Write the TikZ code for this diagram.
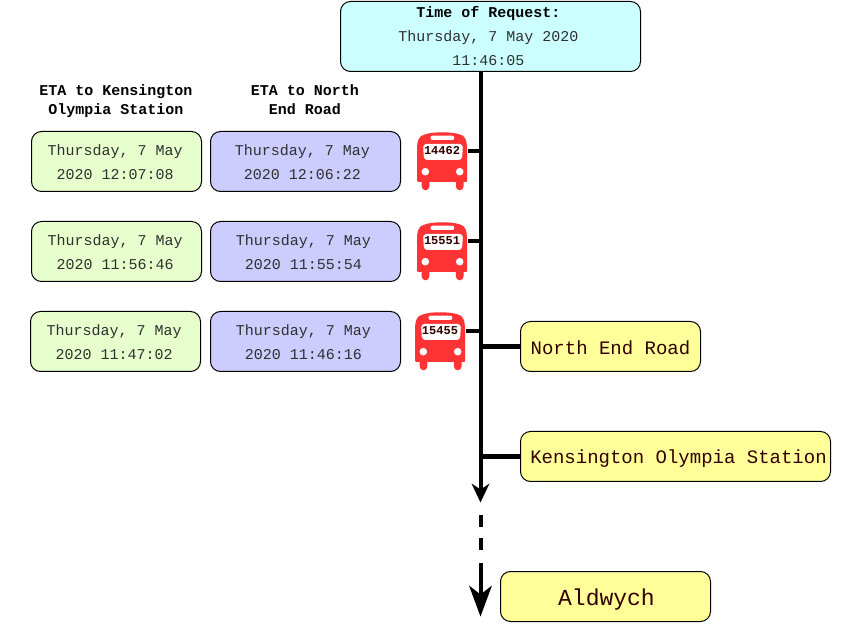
\documentclass[tikz,border=0pt]{standalone}
\usepackage{fontspec}
\setmonofont{Liberation Mono}
\definecolor{cyanbox}{HTML}{CCFFFF}
\definecolor{greenbox}{HTML}{E6FFCC}
\definecolor{bluebox}{HTML}{CCCCFF}
\definecolor{yellowbox}{HTML}{FFFF99}
\definecolor{busred}{HTML}{FF3333}
\definecolor{inkdark}{HTML}{303030}
\definecolor{inkstop}{HTML}{330000}
\tikzset{
  x=0.75pt,y=-0.75pt,
  boxbase/.style={draw=black,line width=0.75pt,rounded corners=7.5pt,inner sep=0pt,outer sep=0pt,anchor=north west},
  greennode/.style={boxbase,fill=greenbox,minimum width=127.5pt,minimum height=45pt},
  bluenode/.style={boxbase,fill=bluebox,minimum width=142.5pt,minimum height=45pt},
  stopnode/.style={boxbase,fill=yellowbox,minimum height=37.5pt},
  etatext/.style={inner sep=0pt,align=center,text=inkdark,font=\ttfamily\fontsize{11.25}{18}\selectfont},
  stoptext/.style={inner sep=0pt,text=inkstop,font=\ttfamily\fontsize{14.25}{16}\selectfont},
  headtext/.style={align=center,inner sep=0pt,font=\ttfamily\bfseries\fontsize{11.25}{14}\selectfont},
  busplate/.style={inner sep=0pt,font=\ttfamily\bfseries\fontsize{9}{9}\selectfont,text=inkstop},
  spine/.style={line width=3pt,draw=black},
  stub/.style={line width=3pt,draw=black},
  stopstub/.style={line width=3.75pt,draw=black},
}
\newcommand{\busicon}[1]{%
  \begin{scope}[shift={(#1)}]
    \fill[busred] (-25,-10) .. controls (-25,-20) and (-23,-24.5) .. (-17,-25.5) .. controls (-10,-28.5) and (10,-28.5) .. (18,-25.5) .. controls (23,-24.5) and (25,-20) .. (25,-10) -- (25,21) -- (24,22) -- (21.5,22) -- (21.5,26.5) arc[start angle=0,end angle=180,radius=3.8] -- (13.9,22) -- (-12.7,22) -- (-12.7,26.5) arc[start angle=0,end angle=180,radius=3.8] -- (-20.3,22) -- (-24,22) -- (-25,21) -- cycle;
    \fill[white,rounded corners=1.5pt] (-11.5,-24.3) rectangle (12.3,-20);
    \fill[white,rounded corners=2.5pt] (-19,-16) -- (21,-16) -- (20,0) -- (-18,0) -- cycle;
    \fill[white] (-16.7,11.7) circle[radius=3.8];
    \fill[white] (17.7,11.7) circle[radius=3.8];
  \end{scope}}
\begin{document}
\begin{tikzpicture}
\useasboundingbox (0,0) rectangle (847,627);
% boxes
\node[boxbase,fill=cyanbox,minimum width=225pt,minimum height=52.5pt,
  label={[etatext,xshift=-1.5pt]center:{{\bfseries\color{black}Time of Request:}\\Thursday, 7 May 2020\\11:46:05}}] (req) at (340.5,1.5) {};
\node[headtext] (hg) at (116,101) {ETA to Kensington\\Olympia Station};
\node[headtext] (hb) at (305,99.5) {ETA to North\\End Road};
\node[greennode,label={[etatext,xshift=-1.1pt,yshift=-0.75pt]center:{Thursday, 7 May\\2020 12:07:08}}] (g1) at (31.5,131.5) {};
\node[bluenode,label={[etatext,xshift=-2.25pt,yshift=-0.75pt]center:{Thursday, 7 May\\2020 12:06:22}}] (b1) at (210.5,131.5) {};
\node[greennode,label={[etatext,xshift=-1.1pt,yshift=-0.75pt]center:{Thursday, 7 May\\2020 11:56:46}}] (g2) at (31.5,221.5) {};
\node[bluenode,label={[etatext,xshift=-1.5pt,yshift=-0.75pt]center:{Thursday, 7 May\\2020 11:55:54}}] (b2) at (210.5,221.5) {};
\node[greennode,label={[etatext,xshift=-1.1pt,yshift=-0.75pt]center:{Thursday, 7 May\\2020 11:47:02}}] (g3) at (30.5,311.5) {};
\node[bluenode,label={[etatext,xshift=-1.5pt,yshift=-0.75pt]center:{Thursday, 7 May\\2020 11:46:16}}] (b3) at (210.5,311.5) {};
\node[stopnode,minimum width=135pt,label={[stoptext,yshift=-0.75pt]center:North End Road}] (ner) at (520.5,321.5) {};
\node[stopnode,minimum width=232.5pt,label={[stoptext,xshift=2.25pt,yshift=-1.5pt]center:Kensington Olympia Station}] (kos) at (520.5,431.5) {};
\node[stopnode,minimum width=157.5pt,label={[stoptext,font=\ttfamily\fontsize{17.25}{18}\selectfont,xshift=0.75pt,yshift=-2.25pt]center:Aldwych}] (ald) at (500.5,571.5) {};
% buses
\busicon{442,160}
\busicon{442,250}
\busicon{440,340}
\node[busplate] (p1) at (442,151) {14462};
\node[busplate] (p2) at (442,241) {15551};
\node[busplate] (p3) at (440,331) {15455};
% spine
\coordinate (a1) at (480.5,71);
\coordinate (e1) at (a1 |- 0,490);
\coordinate (d1) at (a1 |- 0,515);
\coordinate (d2) at (a1 |- 0,527);
\coordinate (d3) at (a1 |- 0,538);
\coordinate (d4) at (a1 |- 0,550);
\coordinate (e2) at (a1 |- 0,563);
\coordinate (e3) at (a1 |- 0,600);
\coordinate (t1) at (a1 |- 0,502.5);
\coordinate (t2) at (a1 |- 0,616.5);
\draw[spine] (a1) -- (e1);
\draw[spine] (d1) -- (d2);
\draw[spine] (d3) -- (d4);
\draw[spine] (e2) -- (e3);
\fill[black] (t1) -- ++(-9,-19) -- ++(9,6) -- ++(9,-6) -- cycle;
\fill[black] (t2) -- ++(-11.5,-31) -- ++(11.5,9) -- ++(11.5,-9) -- cycle;
% stubs
\coordinate (s1) at (468,151);
\coordinate (s2) at (468,241);
\coordinate (s3) at (466,331);
\draw[stub] (s1) -- (s1 -| a1);
\draw[stub] (s2) -- (s2 -| a1);
\draw[stub] (s3) -- (s3 -| a1);
\draw[stopstub] (ner.west) -- (ner.west -| a1);
\draw[stopstub] (kos.west) -- (kos.west -| a1);
\end{tikzpicture}
\end{document}
